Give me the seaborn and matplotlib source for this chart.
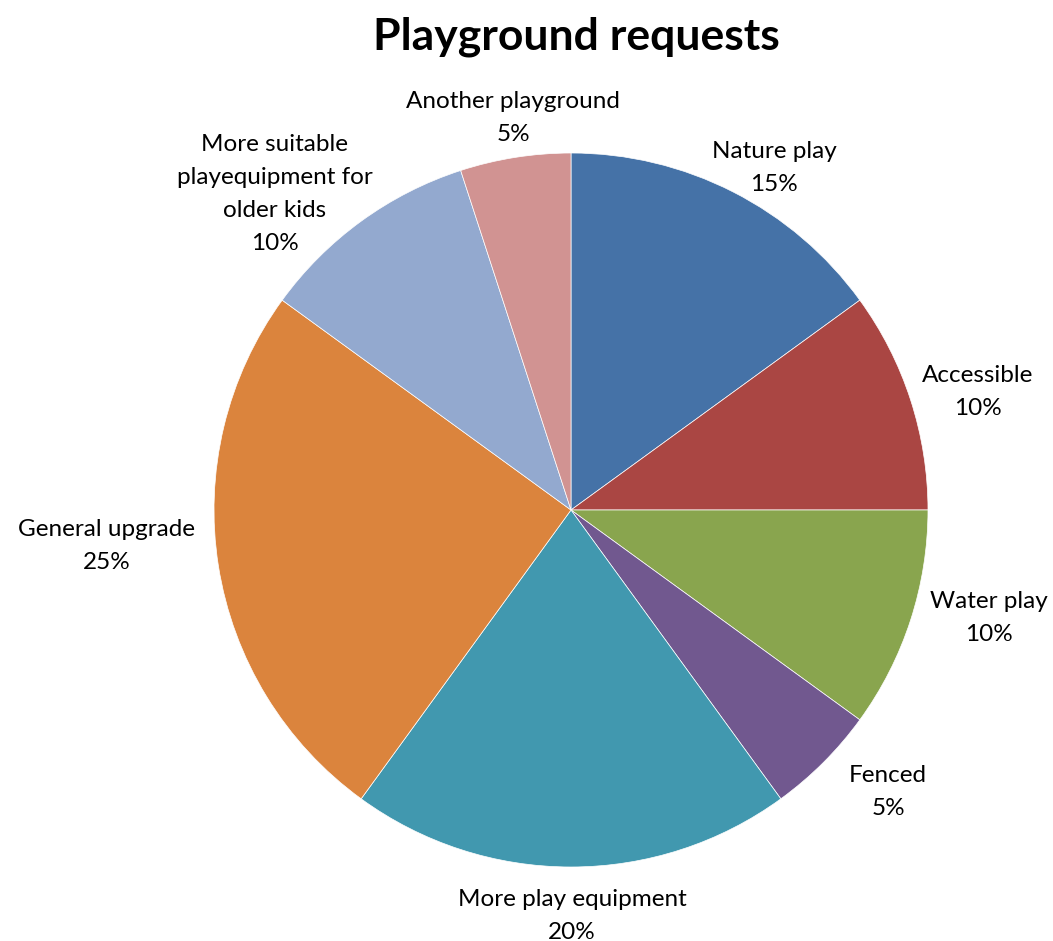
import matplotlib.pyplot as plt
import seaborn as sns

# Data
categories = ["Nature play", "Accessible", "Water play", "Fenced",
              "More play equipment", "General upgrade",
              "More suitable\nplayequipment for\nolder kids", "Another playground"]
values = [15, 10, 10, 5, 20, 25, 10, 5]
colors = ["#4572A7", "#AA4643", "#89A54E", "#71588F",
          "#4198AF", "#DB843D", "#93A9CF", "#D19392"]

# label centres in pie units (radius = 1)
label_pos = [(0.569, 0.958), (1.140, 0.331), (1.171, -0.302), (0.888, -0.790),
             (0.003, -1.137), (-1.300, -0.101), (-0.830, 0.885), (-0.162, 1.098)]

sns.set_theme(style="white")
plt.rcParams['font.family'] = ['Lato', 'DejaVu Sans']
plt.rcParams['text.color'] = 'black'

fig = plt.figure(figsize=(10.53, 9.41), dpi=100)
ax = fig.add_axes([214 / 1053, 74 / 941, 714 / 1053, 714 / 941])

wedges, _ = ax.pie(values, colors=colors, startangle=90, counterclock=False,
                   radius=1, wedgeprops=dict(edgecolor="white", linewidth=0.5))
ax.set_xlim(-1, 1)
ax.set_ylim(-1, 1)
ax.set_aspect("equal")
ax.axis("off")

total = sum(values)
for name, v, (x, y) in zip(categories, values, label_pos):
    ax.text(x, y, f"{name}\n{round(v / total * 100)}%", ha="center", va="center",
            fontsize=17.5, color="black", linespacing=1.7, clip_on=False)

fig.text(576 / 1053, 1 - 37 / 941, "Playground requests", ha="center", va="center",
         fontsize=32, fontweight="bold", color="black")

fig.savefig("out.png", dpi=100)
